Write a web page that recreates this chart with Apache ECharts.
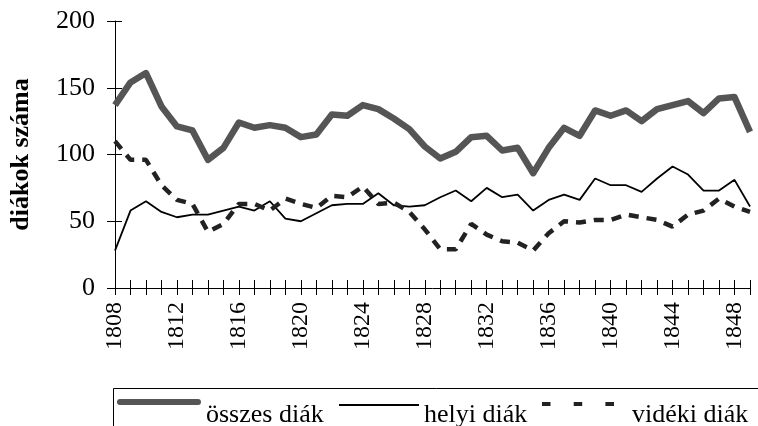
<!DOCTYPE html>
<html>
<head>
<meta charset="utf-8">
<script src="https://cdn.jsdelivr.net/npm/echarts@6/dist/echarts.min.js"></script>
<style>
html, body { margin: 0; padding: 0; background: #fff; }
#chart { width: 758px; height: 426px; }
</style>
</head>
<body>
<div id="chart"></div>
<script>
// évek és a három sorozat
var years = [];
for (var y = 1808; y <= 1849; y++) years.push(String(y));

var osszes = [137, 154, 161, 136, 121, 118, 96, 105, 124, 120, 122,
	120, 113, 115, 130, 129, 137, 134, 127, 119, 106,
	97, 102, 113, 114, 103, 105, 86, 105, 120, 114,
	133, 129, 133, 125, 134, 137, 140, 131, 142, 143, 117];
var helyi = [28, 58, 65, 57, 53, 55, 55, 58, 61, 58, 65,
	52, 50, 56, 62, 63, 63, 71, 62, 61, 62,
	68, 73, 65, 75, 68, 70, 58, 66, 70, 66,
	82, 77, 77, 72, 82, 91, 85, 73, 73, 81, 61];
var videki = [110, 96, 96, 77, 66, 63, 42, 48, 63, 63, 58,
	67, 63, 60, 69, 68, 76, 63, 64, 57, 44,
	29, 29, 48, 40, 35, 34, 28, 41, 50, 49,
	51, 51, 55, 53, 51, 46, 55, 58, 67, 61, 57];
var yTicks = [0, 50, 100, 150, 200];

var font = 'Liberation Serif';
var myChart = echarts.init(document.getElementById('chart'));

function legendText(padLeft) {
	return { fontFamily: font, fontSize: 26, color: '#000', padding: [0, 0, 0, padLeft] };
}

// a jelmagyarázat ikonjai: a jel a doboz tetején, alul egy üres pont tolja le a szöveget
var option = {
	animation: false,
	grid: { left: 113, right: 8, top: 21, bottom: 138 },
	graphic: [{
		type: 'rect',
		left: 111,
		top: 386,
		shape: { width: 700, height: 100 },
		style: { fill: 'none', stroke: '#000', lineWidth: 1 },
		silent: true
	}],
	legend: [{
		left: 117,
		top: 399,
		padding: 0,
		itemWidth: 84,
		itemHeight: 32,
		itemStyle: { borderWidth: 0 },
		textStyle: legendText(0),
		data: [{ name: 'összes diák', icon: 'path://M3,0 L81,0 A3,3 0 0 1 81,6 L3,6 A3,3 0 0 1 3,0 Z M0,32 L0,32 Z' }]
	}, {
		left: 339,
		top: 402,
		padding: 0,
		itemWidth: 80,
		itemHeight: 22,
		itemStyle: { borderWidth: 0 },
		textStyle: legendText(0),
		data: [{ name: 'helyi diák', icon: 'path://M0,0 L80,0 L80,2 L0,2 Z M0,22 L0,22 Z' }]
	}, {
		left: 542,
		top: 402,
		padding: 0,
		itemWidth: 72,
		itemHeight: 27,
		itemStyle: { borderWidth: 0 },
		textStyle: legendText(13),
		data: [{ name: 'vidéki diák', icon: 'path://M0,0 L8.5,0 L8.5,4 L0,4 Z M31.7,0 L40.2,0 L40.2,4 L31.7,4 Z M63.4,0 L72,0 L72,4 L63.4,4 Z M0,27 L0,27 Z' }]
	}],
	xAxis: [{
		type: 'category',
		data: years,
		boundaryGap: false,
		axisLine: { lineStyle: { color: '#000', width: 1 } },
		axisTick: { show: true, interval: 0, length: 7, lineStyle: { color: '#000' } },
		axisLabel: { interval: 3, rotate: 90, fontFamily: font, fontSize: 24, color: '#000', margin: 14 }
	}, {
		type: 'category',
		data: years,
		position: 'bottom',
		boundaryGap: false,
		axisLine: { show: false },
		axisTick: { show: true, inside: true, interval: 0, length: 8, lineStyle: { color: '#000' } },
		axisLabel: { show: false }
	}],
	yAxis: [{
		type: 'value',
		min: yTicks[0],
		max: yTicks[yTicks.length - 1],
		interval: 50,
		name: 'diákok száma',
		nameLocation: 'middle',
		nameGap: 81,
		nameTextStyle: { fontFamily: font, fontSize: 26, fontWeight: 'bold', color: '#000' },
		axisLine: { show: true, lineStyle: { color: '#000' } },
		axisTick: { show: true, length: 8, lineStyle: { color: '#000' } },
		axisLabel: { fontFamily: font, fontSize: 26, color: '#000', margin: 20 },
		splitLine: { show: false }
	}, {
		type: 'value',
		min: 0,
		max: 200,
		interval: 50,
		position: 'left',
		axisLine: { show: false },
		axisTick: { show: true, inside: true, length: 7, lineStyle: { color: '#000' } },
		axisLabel: { show: false },
		splitLine: { show: false }
	}],
	series: [{
		name: 'összes diák',
		type: 'line',
		data: osszes,
		symbol: 'none',
		color: '#555',
		lineStyle: { color: '#555', width: 6.5, join: 'round' }
	}, {
		name: 'helyi diák',
		type: 'line',
		data: helyi,
		symbol: 'none',
		color: '#000',
		lineStyle: { color: '#000', width: 1.8 }
	}, {
		name: 'vidéki diák',
		type: 'line',
		data: videki,
		symbol: 'none',
		color: '#222',
		lineStyle: { color: '#222', width: 4.5, type: [10, 8] }
	}]
};
myChart.setOption(option);
</script>
</body>
</html>
